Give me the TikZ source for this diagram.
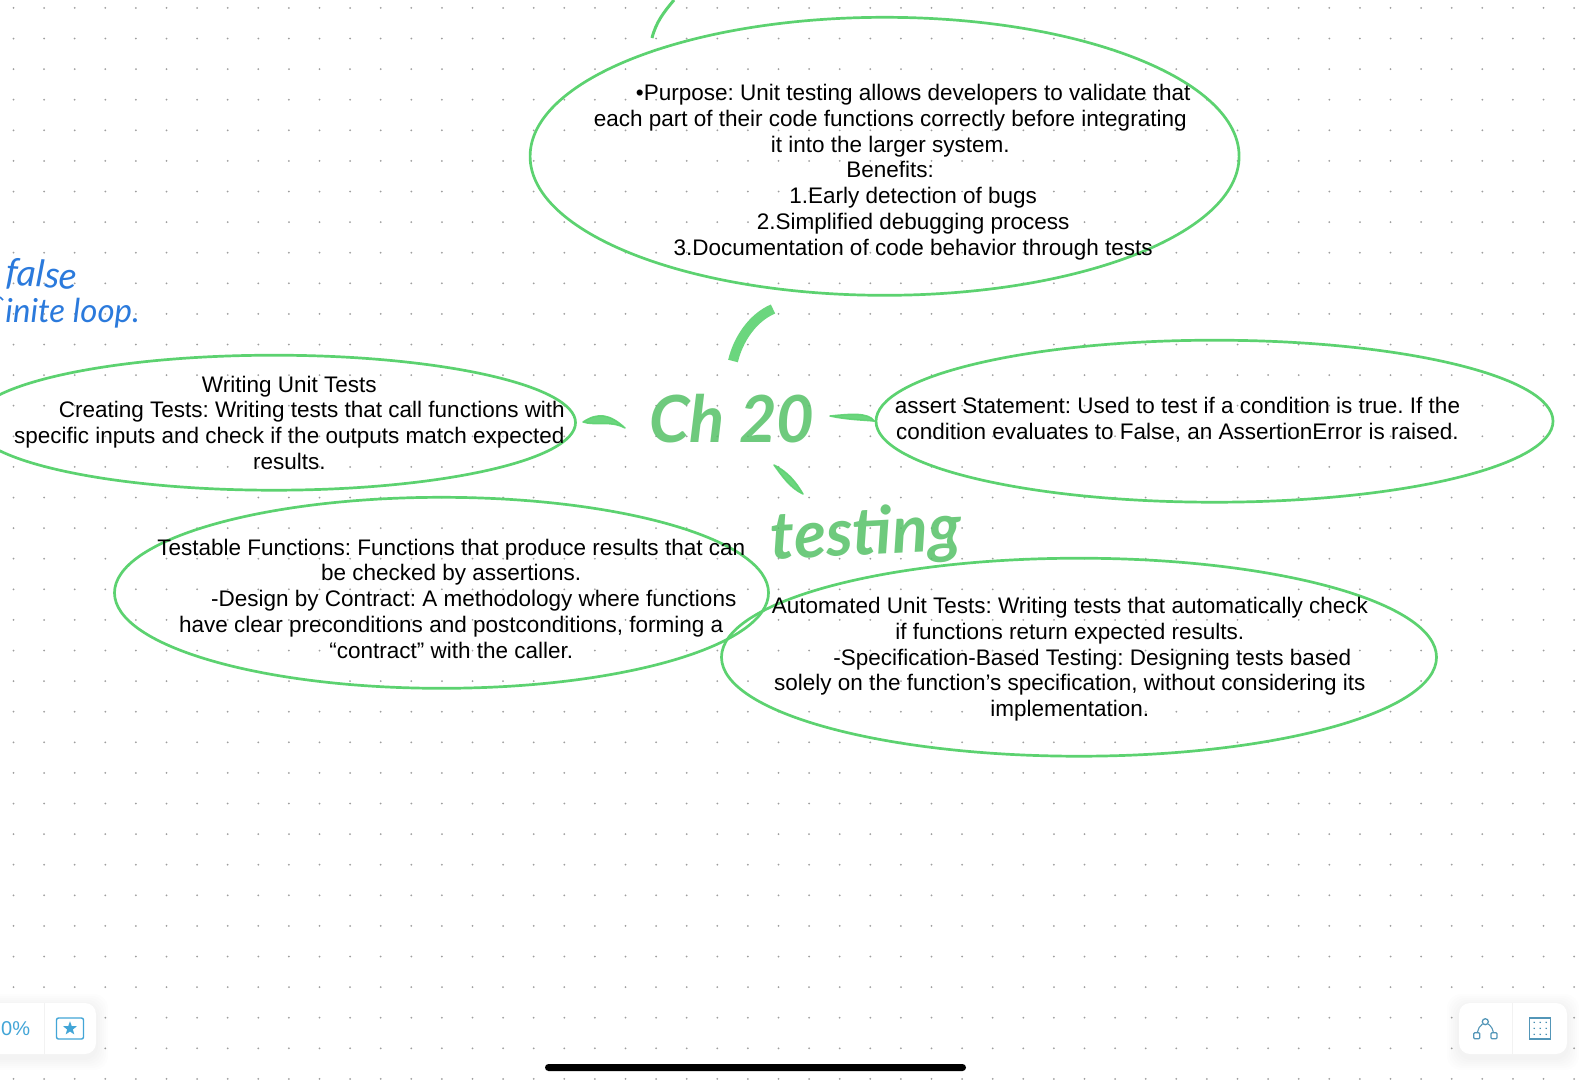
\documentclass[tikz,border=0pt]{standalone}
\usepackage{fontspec}
\setmainfont{Liberation Sans}
\newfontfamily\penfont{Lato}
\usetikzlibrary{positioning, shapes.geometric, calc}
\definecolor{ovalgreen}{RGB}{92,210,112}
\definecolor{penblue}{RGB}{43,122,220}
\definecolor{toolblue}{RGB}{66,165,215}

\begin{document}
\frenchspacing
\begin{tikzpicture}[
  x=1pt, y=-1pt,
  topicoval/.style={
    ellipse, draw=ovalgreen, line width=2.7pt, inner sep=0pt
  },
  notetext/.style={
    align=center, text=black, inner sep=0pt,
    font=\fontsize{22.5}{25.8}\selectfont
  },
  markertext/.style={
    text=ovalgreen!92!black, opacity=.85, inner sep=0pt,
    font=\penfont\bfseries\itshape
  },
  markerstroke/.style={
    draw=ovalgreen, fill=ovalgreen, opacity=.9, line width=1.5pt, line join=round
  },
  pentext/.style={
    text=penblue, inner sep=0pt, font=\penfont\itshape
  },
  toolpanel/.style={
    rectangle, rounded corners=11pt, fill=white, inner sep=0pt
  }
]
\useasboundingbox (0,0) rectangle (1592,1080);
\fill[white] (0,0) rectangle (1592,1080);

% dotted paper
\foreach \col in {0,...,51}
  \foreach \row in {0,...,35}
    \fill[black!38] ({13.5+30.6*\col},{7.9+30.6*\row}) circle (1pt);

% ovals
\node [topicoval, minimum width=709pt, minimum height=278pt] (purposeoval) at (884.6,156.3) {};
\node [topicoval, minimum width=677pt, minimum height=162pt] (assertoval) at (1214.5,421.2) {};
\node [topicoval, minimum width=603pt, minimum height=135pt] (writingoval) at (274,422.7) {};
\node [topicoval, minimum width=654pt, minimum height=191pt] (testableoval) at (441.5,592.8) {};
\node [topicoval, minimum width=715pt, minimum height=198pt] (automatedoval) at (1079,657.2) {};

% texts of the ovals
\node [notetext] (purposetext) at (890.2,172) {\hspace*{46pt}•Purpose: Unit testing allows developers to validate that\\
  each part of their code functions correctly before integrating\\
  it into the larger system.\\
  Benefits:\\
  \hspace*{46pt}1.Early detection of bugs\\
  \hspace*{46pt}2.Simplified debugging process\\
  \hspace*{46pt}3.Documentation of code behavior through tests};
\node [notetext] (asserttext) at (1177.4,419.8) {assert Statement: Used to test if a condition is true. If the\\
  condition evaluates to False, an AssertionError is raised.};
\node [notetext] (writingtext) at (289.3,422.8) {Writing Unit Tests\\
  \hspace*{45pt}Creating Tests: Writing tests that call functions with\\
  specific inputs and check if the outputs match expected\\
  results.};
\node [notetext] (testabletext) at (451.2,598.6) {Testable Functions: Functions that produce results that can\\
  be checked by assertions.\\
  \hspace*{45pt}-Design by Contract: A methodology where functions\\
  have clear preconditions and postconditions, forming a\\
  “contract” with the caller.};
\node [notetext] (automatedtext) at (1069.8,659.2) {Automated Unit Tests: Writing tests that automatically check\\
  if functions return expected results.\\
  \hspace*{45pt}-Specification-Based Testing: Designing tests based\\
  solely on the function’s specification, without considering its\\
  implementation.};

% handwriting
\node [markertext, font=\penfont\bfseries\itshape\fontsize{65}{65}\selectfont] (chapter) at (732,419) {Ch 20};
\node [markertext, font=\penfont\bfseries\itshape\fontsize{66}{66}\selectfont, rotate=3] (testing) at (866,536) {testing};
\node [pentext, font=\penfont\itshape\fontsize{37}{37}\selectfont, rotate=-4] (falsenote) at (42,276) {false};
\node [pentext, font=\penfont\itshape\fontsize{33}{33}\selectfont, anchor=east] (loopnote) at (140,313) {inite loop.};
\draw [penblue, line width=1.6pt] (0,297) -- (3,300);

% strokes around the chapter
\coordinate (purposetail) at (773,309);
\coordinate (purposehead) at (733,361);
\coordinate (writingtail) at (625,428);
\coordinate (writinghead) at (583,422);
\coordinate (assertstart) at (830,416);
\coordinate (testingtail) at (774,465);
\coordinate (testinghead) at (803,494);
\coordinate (toptail) at (652,38);
\coordinate (tophead) at (674,0);
\draw [draw=ovalgreen, opacity=.9, line width=10pt] (purposetail) .. controls (752,318) and (738,340) .. (purposehead);
\draw [markerstroke] (writingtail) .. controls (610,414) and (598,412) .. (writinghead) .. controls (595,426) and (610,420) .. (writingtail) -- cycle;
\draw [markerstroke] (assertstart) .. controls (850,414) and (868,412) .. (assertoval.west) .. controls (866,420) and (848,420) .. (assertstart) -- cycle;
\draw [markerstroke] (testingtail) .. controls (788,472) and (796,482) .. (testinghead) .. controls (790,488) and (782,476) .. (testingtail) -- cycle;
\draw [draw=ovalgreen, line width=3pt] (toptail) .. controls (656,22) and (664,12) .. (tophead);

% left tool panel
\foreach \grow in {1,...,6}
  \fill [black, opacity=.006, rounded corners=14pt] ({-20-2*\grow},{1006-2*\grow}) rectangle ({96+2*\grow},{1058+2*\grow});
\node [toolpanel, minimum width=116pt, minimum height=51pt] (leftpanel) at (38,1028.5) {};
\draw [black!5, line width=1pt] (44,1003) -- (44,1054);
\node [text=toolblue, inner sep=0pt, font=\fontsize{20}{20}\selectfont, anchor=west] (zoomvalue) at (1,1029) {0\%};
\node [rectangle, rounded corners=2pt, draw=toolblue, line width=1.4pt, minimum width=27pt, minimum height=21pt, inner sep=0pt] (starframe) at (70,1028.5) {};
\node [star, star points=5, star point ratio=2.4, fill=toolblue, inner sep=0pt, minimum size=14.5pt] (staricon) at (starframe) {};

% right tool panel
\foreach \grow in {1,...,6}
  \fill [black, opacity=.006, rounded corners=14pt] ({1459-2*\grow},{1006-2*\grow}) rectangle ({1567+2*\grow},{1058+2*\grow});
\node [toolpanel, minimum width=108pt, minimum height=51pt] (rightpanel) at (1513,1028.5) {};
\draw [black!5, line width=1pt] (1512.7,1003) -- (1512.7,1054);
\node [circle, draw=toolblue!80!black!85, line width=1.3pt, minimum size=6pt, inner sep=0pt] (hubicon) at (1485.3,1021.7) {};
\node [rectangle, rounded corners=1pt, draw=toolblue!80!black!85, line width=1.3pt, minimum size=6pt, inner sep=0pt] (leaficona) at (1476.7,1035.7) {};
\node [rectangle, rounded corners=1pt, draw=toolblue!80!black!85, line width=1.3pt, minimum size=6pt, inner sep=0pt] (leaficonb) at (1494,1035.7) {};
\draw [toolblue!80!black!85, line width=1.1pt] (hubicon) to[bend right=20] (leaficona);
\draw [toolblue!80!black!85, line width=1.1pt] (hubicon) to[bend left=20] (leaficonb);
\node [rectangle, draw=toolblue!80!black!85, line width=1.4pt, minimum width=21pt, minimum height=21pt, inner sep=0pt] (gridicon) at (1540.2,1028.3) {};
\foreach \dx in {-6,0,6}
  \foreach \dy in {-6,0,6}
    \fill [toolblue!80!black] ($(gridicon)+(\dx,\dy)$) circle (.8pt);

% home bar
\node [rectangle, rounded corners=3.5pt, fill=black, minimum width=421pt, minimum height=7pt, inner sep=0pt] (homebar) at (755.5,1067.5) {};
\end{tikzpicture}
\end{document}
